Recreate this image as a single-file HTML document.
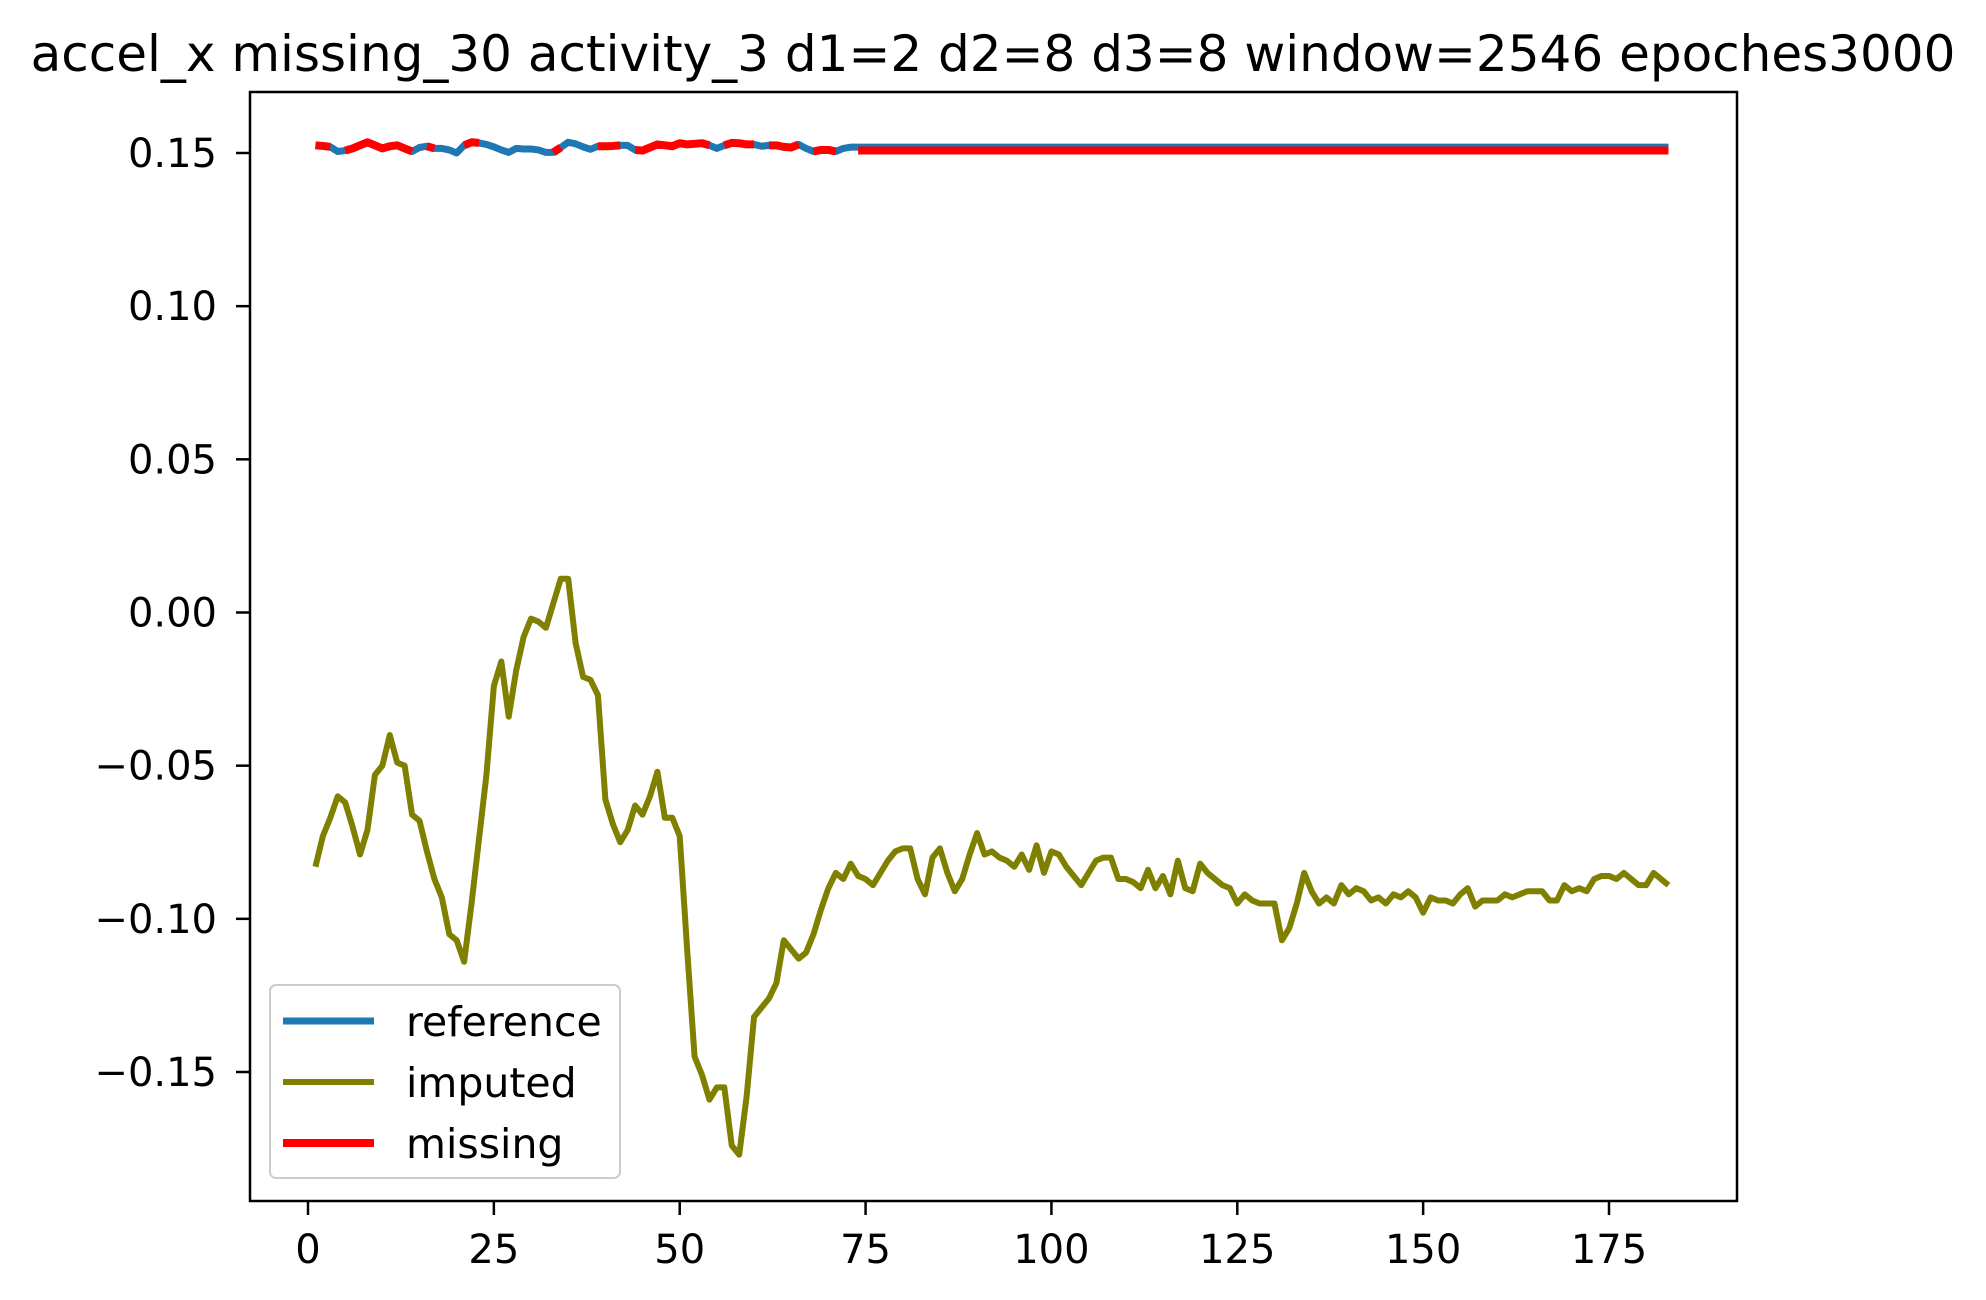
<!DOCTYPE html>
<html><head><meta charset="utf-8">
<style>
html,body{margin:0;padding:0;background:#fff;}
svg{display:block;font-family:"DejaVu Sans","Liberation Sans",sans-serif;}
</style></head>
<body>
<svg id="chart" width="1986" height="1300" viewBox="0 0 1986 1300">
<rect x="0" y="0" width="1986" height="1300" fill="#fff"/>
<text x="993" y="71" text-anchor="middle" font-size="50" fill="#000">accel_x missing_30 activity_3 d1=2 d2=8 d3=8 window=2546 epoches3000</text>
<g id="plot"></g>
<g id="axes"></g>
<g id="legend">
<rect x="270" y="985" width="350" height="193" rx="6" fill="#fff" fill-opacity="0.8" stroke="#ccc" stroke-width="2"/>
<g>
<line x1="283" y1="1021" x2="374" y2="1021" stroke="#1f77b4" stroke-width="7"/>
<text x="406" y="1036" font-size="41">reference</text></g>
<g>
<line x1="283" y1="1082" x2="374" y2="1082" stroke="#808000" stroke-width="6"/>
<text x="406" y="1097" font-size="41">imputed</text></g>
<g>
<line x1="283" y1="1143" x2="374" y2="1143" stroke="#ff0000" stroke-width="8"/>
<text x="406" y="1158" font-size="41">missing</text></g>
</g>
</svg>
<script>
const xTicks = [0, 25, 50, 75, 100, 125, 150, 175];
const yTicks = [0.15, 0.10, 0.05, 0.00, -0.05, -0.10, -0.15];
const yTickLabels = ["0.15", "0.10", "0.05", "0.00", "\u22120.05", "\u22120.10", "\u22120.15"];
const imputed = [
-0.083,-0.073,-0.067,-0.060,-0.062,-0.070,-0.079,-0.071,-0.053,-0.050,
-0.040,-0.049,-0.050,-0.066,-0.068,-0.078,-0.087,-0.093,-0.105,-0.107,
-0.114,-0.095,-0.074,-0.053,-0.024,-0.016,-0.034,-0.019,-0.008,-0.002,
-0.003,-0.005,0.003,0.011,0.011,-0.010,-0.021,-0.022,-0.027,-0.061,
-0.069,-0.075,-0.071,-0.063,-0.066,-0.060,-0.052,-0.067,-0.067,-0.073,
-0.110,-0.145,-0.151,-0.159,-0.155,-0.155,-0.174,-0.177,-0.158,-0.132,
-0.129,-0.126,-0.121,-0.107,-0.110,-0.113,-0.111,-0.105,-0.097,-0.090,
-0.085,-0.087,-0.082,-0.086,-0.087,-0.089,-0.085,-0.081,-0.078,-0.077,
-0.077,-0.087,-0.092,-0.080,-0.077,-0.085,-0.091,-0.087,-0.079,-0.072,
-0.079,-0.078,-0.080,-0.081,-0.083,-0.079,-0.084,-0.076,-0.085,-0.078,
-0.079,-0.083,-0.086,-0.089,-0.085,-0.081,-0.080,-0.080,-0.087,-0.087,
-0.088,-0.090,-0.084,-0.090,-0.086,-0.092,-0.081,-0.090,-0.091,-0.082,
-0.085,-0.087,-0.089,-0.090,-0.095,-0.092,-0.094,-0.095,-0.095,-0.095,
-0.107,-0.103,-0.095,-0.085,-0.091,-0.095,-0.093,-0.095,-0.089,-0.092,
-0.090,-0.091,-0.094,-0.093,-0.095,-0.092,-0.093,-0.091,-0.093,-0.098,
-0.093,-0.094,-0.094,-0.095,-0.092,-0.090,-0.096,-0.094,-0.094,-0.094,
-0.092,-0.093,-0.092,-0.091,-0.091,-0.091,-0.094,-0.094,-0.089,-0.091,
-0.090,-0.091,-0.087,-0.086,-0.086,-0.087,-0.085,-0.087,-0.089,-0.089,
-0.085,-0.087,-0.089];
const reference = [
0.1525,0.1523,0.1520,0.1505,0.1508,0.1515,0.1525,0.1535,0.1525,0.1515,
0.1522,0.1525,0.1515,0.1505,0.1518,0.1522,0.1515,0.1515,0.1510,0.1500,
0.1525,0.1535,0.1533,0.1528,0.1520,0.1510,0.1502,0.1515,0.1513,0.1513,
0.1510,0.1502,0.1502,0.1518,0.1535,0.1530,0.1520,0.1512,0.1522,0.1522,
0.1523,0.1525,0.1525,0.1510,0.1508,0.1518,0.1528,0.1525,0.1522,0.1532,
0.1528,0.1530,0.1532,0.1525,0.1515,0.1525,0.1533,0.1532,0.1528,0.1528,
0.1522,0.1525,0.1525,0.1520,0.1518,0.1528,0.1515,0.1505,0.1510,0.1510,
0.1505,0.1515,0.1519,
0.1519,0.1519,0.1519,0.1519,0.1519,0.1519,0.1519,0.1519,0.1519,0.1519,
0.1519,0.1519,0.1519,0.1519,0.1519,0.1519,0.1519,0.1519,0.1519,0.1519,
0.1519,0.1519,0.1519,0.1519,0.1519,0.1519,0.1519,0.1519,0.1519,0.1519,
0.1519,0.1519,0.1519,0.1519,0.1519,0.1519,0.1519,0.1519,0.1519,0.1519,
0.1519,0.1519,0.1519,0.1519,0.1519,0.1519,0.1519,0.1519,0.1519,0.1519,
0.1519,0.1519,0.1519,0.1519,0.1519,0.1519,0.1519,0.1519,0.1519,0.1519,
0.1519,0.1519,0.1519,0.1519,0.1519,0.1519,0.1519,0.1519,0.1519,0.1519,
0.1519,0.1519,0.1519,0.1519,0.1519,0.1519,0.1519,0.1519,0.1519,0.1519,
0.1519,0.1519,0.1519,0.1519,0.1519,0.1519,0.1519,0.1519,0.1519,0.1519,
0.1519,0.1519,0.1519,0.1519,0.1519,0.1519,0.1519,0.1519,0.1519,0.1519,
0.1519,0.1519,0.1519,0.1519,0.1519,0.1519,0.1519,0.1519,0.1519,0.1519];
const missing = [
0.1525,0.1523,0.1520,null,0.1508,0.1515,0.1525,0.1535,0.1525,0.1515,
0.1522,0.1525,0.1515,0.1505,null,0.1522,0.1515,null,null,null,
0.1525,0.1535,0.1533,null,null,null,null,null,null,null,
null,null,0.1502,0.1518,null,null,null,null,0.1522,0.1522,
0.1523,0.1525,null,0.1510,0.1508,0.1518,0.1528,0.1525,0.1522,0.1532,
0.1528,0.1530,0.1532,0.1525,null,0.1525,0.1533,0.1532,0.1528,0.1528,
null,0.1525,0.1525,0.1520,0.1518,0.1528,null,0.1505,0.1510,0.1510,
0.1505,null,null,
0.1508,0.1508,0.1508,0.1508,0.1508,0.1508,0.1508,0.1508,0.1508,0.1508,
0.1508,0.1508,0.1508,0.1508,0.1508,0.1508,0.1508,0.1508,0.1508,0.1508,
0.1508,0.1508,0.1508,0.1508,0.1508,0.1508,0.1508,0.1508,0.1508,0.1508,
0.1508,0.1508,0.1508,0.1508,0.1508,0.1508,0.1508,0.1508,0.1508,0.1508,
0.1508,0.1508,0.1508,0.1508,0.1508,0.1508,0.1508,0.1508,0.1508,0.1508,
0.1508,0.1508,0.1508,0.1508,0.1508,0.1508,0.1508,0.1508,0.1508,0.1508,
0.1508,0.1508,0.1508,0.1508,0.1508,0.1508,0.1508,0.1508,0.1508,0.1508,
0.1508,0.1508,0.1508,0.1508,0.1508,0.1508,0.1508,0.1508,0.1508,0.1508,
0.1508,0.1508,0.1508,0.1508,0.1508,0.1508,0.1508,0.1508,0.1508,0.1508,
0.1508,0.1508,0.1508,0.1508,0.1508,0.1508,0.1508,0.1508,0.1508,0.1508,
0.1508,0.1508,0.1508,0.1508,0.1508,0.1508,0.1508,0.1508,0.1508,0.1508];
const xStart = 1;

const AX = {left: 250, right: 1737, top: 92, bottom: 1201};
function xScale(v){ return 308 + v * (1609 - 308) / 175; }
function yScale(v){ return 153 + (0.15 - v) * (1072 - 153) / 0.30; }

const NS = "http://www.w3.org/2000/svg";
function mk(tag, attrs, parent){
  const e = document.createElementNS(NS, tag);
  for (const k in attrs) e.setAttribute(k, attrs[k]);
  parent.appendChild(e);
  return e;
}
const plot = document.getElementById('plot');
const axes = document.getElementById('axes');

function seriesPath(vals){
  let d = "", pen = false;
  vals.forEach((v, i) => {
    if (v === null || v === undefined){ pen = false; return; }
    const x = xScale(i + xStart).toFixed(2), y = yScale(v).toFixed(2);
    d += (pen ? "L" : "M") + x + " " + y + " ";
    pen = true;
  });
  return d;
}
const pRef = mk('path', {d: seriesPath(reference), fill: 'none', stroke: '#1f77b4', 'stroke-width': 7, 'stroke-linejoin': 'round'}, plot);


const pImp = mk('path', {d: seriesPath(imputed), fill: 'none', stroke: '#808000', 'stroke-width': 6, 'stroke-linejoin': 'round'}, plot);


const pMis = mk('path', {d: seriesPath(missing), fill: 'none', stroke: '#ff0000', 'stroke-width': 8, 'stroke-linejoin': 'round'}, plot);



const frame = mk('rect', {x: AX.left, y: AX.top, width: AX.right - AX.left, height: AX.bottom - AX.top, fill: 'none', stroke: '#000', 'stroke-width': 2.5}, axes);



xTicks.forEach(t => {
  const x = xScale(t);
  const tk = mk('line', {x1: x, y1: AX.bottom, x2: x, y2: AX.bottom + 14, stroke: '#000', 'stroke-width': 2.5}, axes);
  
  
  const lb = mk('text', {x: x, y: 1263, 'text-anchor': 'middle', 'font-size': 40, fill: '#000'}, axes);
  lb.textContent = String(t);
  
  
});
yTicks.forEach((t, i) => {
  const y = yScale(t);
  const tk = mk('line', {x1: AX.left - 14, y1: y, x2: AX.left, y2: y, stroke: '#000', 'stroke-width': 2.5}, axes);
  
  
  const lb = mk('text', {x: 217, y: y + 14, 'text-anchor': 'end', 'font-size': 40, fill: '#000'}, axes);
  lb.textContent = yTickLabels[i];
  
  
});
</script>
</body></html>
